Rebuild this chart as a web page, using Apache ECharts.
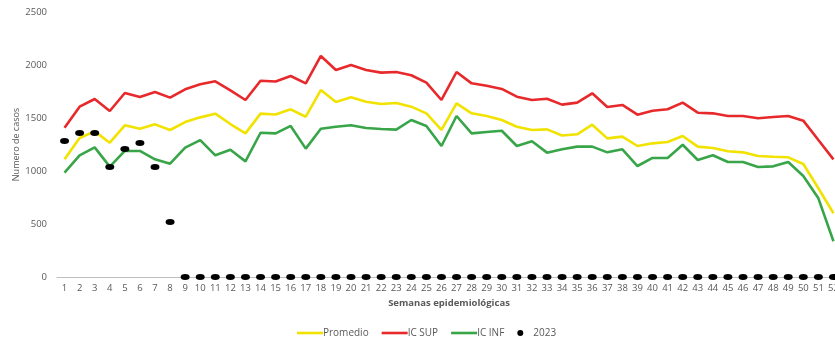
<!DOCTYPE html>
<html>
<head>
<meta charset="utf-8">
<script src="https://cdn.jsdelivr.net/npm/echarts@6/dist/echarts.min.js"></script>
<style>
  html, body { margin: 0; padding: 0; background: #fff; }
  #chart { width: 835px; height: 342px; }
</style>
</head>
<body>
<div id="chart"></div>
<script>
// Semanas epidemiológicas 1–52
const weeks = Array.from({ length: 52 }, (_, i) => String(i + 1));

// Canal endémico: promedio y límites del intervalo de confianza
const promedio = [1110, 1311, 1374, 1267, 1431, 1399, 1440, 1387, 1462, 1506,
  1541, 1443, 1355, 1541, 1533, 1582, 1512, 1764, 1651, 1695,
  1654, 1632, 1642, 1607, 1544, 1387, 1638, 1544, 1519, 1481,
  1418, 1387, 1393, 1335, 1346, 1437, 1308, 1324, 1236, 1261,
  1274, 1330, 1230, 1217, 1186, 1176, 1142, 1135, 1129, 1066,
  837, 601];

const icSup = [1409, 1607, 1679, 1566, 1736, 1698, 1745, 1692, 1771, 1818,
  1846, 1761, 1670, 1852, 1845, 1896, 1827, 2085, 1953, 2000,
  1953, 1928, 1934, 1903, 1833, 1670, 1934, 1827, 1805, 1774,
  1701, 1670, 1682, 1626, 1645, 1733, 1604, 1623, 1531, 1569,
  1582, 1645, 1550, 1544, 1519, 1519, 1497, 1509, 1519, 1475,
  1292, 1110];

const icInf = [984, 1148, 1223, 1041, 1189, 1189, 1110, 1069, 1220, 1292,
  1148, 1201, 1091, 1361, 1355, 1425, 1211, 1399, 1418, 1431,
  1406, 1396, 1390, 1481, 1425, 1236, 1519, 1355, 1368, 1380,
  1236, 1280, 1173, 1206, 1230, 1230, 1176, 1205, 1047, 1123,
  1123, 1248, 1104, 1148, 1085, 1085, 1038, 1044, 1085, 953,
  742, 337];

// Casos 2023
const casos2023 = [1283, 1358, 1358, 1038, 1207, 1264, 1038, 519, 0, 0,
  0, 0, 0, 0, 0, 0, 0, 0, 0, 0,
  0, 0, 0, 0, 0, 0, 0, 0, 0, 0,
  0, 0, 0, 0, 0, 0, 0, 0, 0, 0,
  0, 0, 0, 0, 0, 0, 0, 0, 0, 0,
  0, 0];

const yTicks = { min: 0, max: 2500, interval: 500 };

const FONT = '"Open Sans", "Noto Sans", sans-serif';
const GRAY = '#595959';
const LINE_ICON = 'path://M0,0H100V10H0Z';
const DOT = 'path://M0,5a5,5 0 1,0 10,0a5,5 0 1,0 -10,0Z';

const chart = echarts.init(document.getElementById('chart'), null, { renderer: 'canvas' });

const lineSeries = (name, data, color) => ({
  name,
  type: 'line',
  data,
  symbol: 'none',
  smooth: false,
  lineStyle: { color, width: 2.6 },
  itemStyle: { color },
  emphasis: { disabled: true }
});

chart.setOption({
  animation: false,
  backgroundColor: '#ffffff',
  textStyle: { fontFamily: FONT },
  // the last week sits at the right edge, so the plot runs slightly past the canvas
  grid: { left: 57, top: 12, width: 784, height: 265, containLabel: false, outerBoundsMode: 'none' },
  xAxis: {
    type: 'category',
    data: weeks,
    boundaryGap: true,
    name: 'Semanas epidemiológicas',
    nameLocation: 'middle',
    nameGap: 19,
    nameTextStyle: { color: GRAY, fontSize: 9.5, fontWeight: 'bold', fontFamily: FONT },
    axisLine: { show: true, lineStyle: { color: '#BFBFBF', width: 1 } },
    axisTick: { show: false },
    axisLabel: { color: GRAY, fontSize: 9.5, margin: 6, interval: 0, fontFamily: FONT },
    splitLine: { show: false }
  },
  yAxis: {
    type: 'value',
    min: yTicks.min,
    max: yTicks.max,
    interval: yTicks.interval,
    name: 'Numero de casos',
    nameLocation: 'middle',
    nameGap: 36,
    nameMoveOverlap: false,
    nameTextStyle: { color: GRAY, fontSize: 9, fontFamily: FONT },
    axisLine: { show: false },
    axisTick: { show: false },
    axisLabel: { color: GRAY, fontSize: 9.5, margin: 10, fontFamily: FONT, formatter: (v) => String(v) },
    splitLine: { show: false }
  },
  legend: {
    left: 292,
    top: 323,
    itemWidth: 26,
    itemHeight: 6,
    itemGap: 13,
    symbolKeepAspect: true,
    textStyle: { color: GRAY, fontSize: 10, fontFamily: FONT, padding: [0, 0, 0, -5] },
    data: [
      { name: 'Promedio', icon: LINE_ICON },
      { name: 'IC SUP', icon: LINE_ICON },
      { name: 'IC INF', icon: LINE_ICON },
      { name: '2023', icon: 'circle', itemStyle: { color: '#000000', opacity: 1 } }
    ]
  },
  series: [
    lineSeries('Promedio', promedio, '#F2E200'),
    lineSeries('IC SUP', icSup, '#E8292B'),
    lineSeries('IC INF', icInf, '#38A548'),
    {
      name: '2023',
      type: 'scatter',
      data: casos2023,
      symbol: DOT,
      symbolSize: [9, 6],
      itemStyle: { color: '#000000', opacity: 1 },
      z: 5,
      emphasis: { disabled: true }
    }
  ]
});
</script>
</body>
</html>
